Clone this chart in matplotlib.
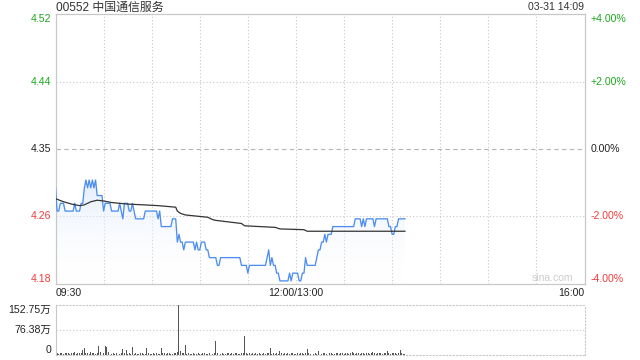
import numpy as np
import matplotlib
matplotlib.use("Agg")
import matplotlib.pyplot as plt
from matplotlib import transforms
from matplotlib.colors import LinearSegmentedColormap

# ---------------- data ----------------
prev_close = 4.35
title = "00552 中国通信服务"
stamp = "03-31 14:09"
price_labels = ["4.52", "4.44", "4.35", "4.26", "4.18"]
pct_labels = ["+4.00%", "+2.00%", "0.00%", "-2.00%", "-4.00%"]
pct_levels = [0.04, 0.02, 0.0, -0.02, -0.04]
time_labels = ["09:30", "12:00/13:00", "16:00"]
time_label_minutes = [0, 150, 330]
vol_labels = ["152.75万", "76.38万", "0"]
vol_label_values = [152.75, 76.38, 0]
session_minutes = 330

# price per minute from 09:30 (one value per minute)
price = [
    4.30, 4.27, 4.27, 4.28, 4.28, 4.28, 4.27, 4.27, 4.27, 4.27,
    4.27, 4.27, 4.28, 4.27, 4.27, 4.27, 4.28, 4.28, 4.30, 4.31,
    4.30, 4.31, 4.30, 4.31, 4.30, 4.31, 4.29, 4.29, 4.29, 4.29,
    4.27, 4.28, 4.28, 4.28, 4.28, 4.27, 4.27, 4.27, 4.27, 4.27,
    4.28, 4.27, 4.26, 4.28, 4.28, 4.28, 4.27, 4.27, 4.28, 4.27,
    4.26, 4.26, 4.26, 4.26, 4.26, 4.26, 4.27, 4.27, 4.27, 4.27,
    4.27, 4.27, 4.27, 4.27, 4.26, 4.27, 4.25, 4.25, 4.25, 4.25,
    4.25, 4.25, 4.25, 4.26, 4.26, 4.26, 4.23, 4.24, 4.23, 4.23,
    4.22, 4.23, 4.23, 4.23, 4.23, 4.23, 4.23, 4.22, 4.23, 4.22,
    4.22, 4.23, 4.23, 4.23, 4.22, 4.22, 4.21, 4.21, 4.21, 4.21,
    4.21, 4.20, 4.20, 4.21, 4.21, 4.21, 4.21, 4.21, 4.21, 4.21,
    4.21, 4.21, 4.21, 4.21, 4.21, 4.21, 4.20, 4.20, 4.20, 4.20,
    4.19, 4.20, 4.20, 4.20, 4.20, 4.20, 4.20, 4.20, 4.20, 4.20,
    4.20, 4.20, 4.21, 4.22, 4.20, 4.21, 4.20, 4.20, 4.19, 4.19,
    4.18, 4.18, 4.18, 4.18, 4.18, 4.18, 4.19, 4.18, 4.19, 4.19,
    4.19, 4.19, 4.18, 4.18, 4.19, 4.19, 4.21, 4.20, 4.20, 4.20,
    4.20, 4.20, 4.20, 4.21, 4.22, 4.22, 4.23, 4.23, 4.24, 4.23,
    4.24, 4.24, 4.24, 4.25, 4.25, 4.25, 4.25, 4.25, 4.25, 4.25,
    4.25, 4.25, 4.25, 4.25, 4.25, 4.25, 4.25, 4.26, 4.26, 4.26,
    4.26, 4.25, 4.26, 4.25, 4.26, 4.26, 4.26, 4.26, 4.26, 4.25,
    4.26, 4.26, 4.26, 4.26, 4.26, 4.26, 4.26, 4.26, 4.25, 4.25,
    4.24, 4.24, 4.25, 4.25, 4.26, 4.26, 4.26, 4.26, 4.26,
]

# average price line (minute, value)
avg_minutes = [0, 5, 10, 15, 18, 22, 26, 30, 35, 45, 55, 64, 75, 76, 78, 81,
               95, 98, 100, 116, 118, 137, 140, 155, 157, 218]
avg_values = [4.286, 4.282, 4.279, 4.277, 4.278, 4.282, 4.284, 4.283, 4.281,
              4.279, 4.278, 4.277, 4.275, 4.270, 4.267, 4.265, 4.262, 4.259,
              4.258, 4.254, 4.251, 4.249, 4.247, 4.246, 4.244, 4.244]

# volume per minute, in 万 shares
volume = [
    40, 6, 4, 5, 6, 4, 5, 7, 5, 4,
    6, 5, 8, 4, 5, 6, 5, 15, 20, 6,
    5, 4, 10, 6, 5, 4, 7, 29, 8, 18,
    6, 27, 23, 8, 4, 3, 5, 4, 6, 3,
    4, 5, 18, 6, 15, 4, 5, 3, 24, 4,
    5, 3, 4, 6, 5, 4, 3, 20, 5, 4,
    3, 6, 4, 5, 4, 3, 22, 6, 5, 4,
    7, 5, 4, 3, 6, 5, 8, 152.75, 12, 6,
    5, 30, 4, 5, 3, 4, 5, 3, 4, 5,
    3, 4, 6, 5, 4, 3, 5, 6, 4, 5,
    43, 6, 5, 4, 5, 3, 4, 6, 5, 4,
    5, 4, 6, 5, 3, 4, 5, 6, 58, 5,
    4, 6, 3, 5, 4, 5, 4, 6, 3, 4,
    5, 4, 6, 5, 20, 4, 5, 3, 6, 4,
    13, 5, 4, 6, 3, 5, 4, 5, 6, 4,
    3, 5, 4, 6, 5, 4, 7, 18, 5, 4,
    6, 4, 5, 3, 12, 5, 4, 6, 5, 3,
    4, 6, 5, 4, 3, 5, 6, 4, 5, 7,
    4, 5, 6, 4, 5, 10, 6, 4, 5, 6,
    4, 7, 5, 4, 6, 5, 4, 6, 8, 5,
    4, 6, 5, 7, 4, 6, 5, 12, 6, 4,
    5, 7, 6, 4, 5, 14, 6, 4, 3,
]

# ---------------- style ----------------
plt.rcParams["font.family"] = ["Liberation Sans", "Noto Sans CJK SC", "DejaVu Sans"]
GREEN = "#1ea81e"
RED = "#f03c3c"
BLACK = "#222222"
GRID = "#c8c8c8"
LINE = "#4d8ef0"
FS = 7.6

W, H = 640, 360
fig = plt.figure(figsize=(W / 100, H / 100), dpi=100)
fig.patch.set_facecolor("white")

L, R = 55.5, 584.5
ax = fig.add_axes([L / W, 1 - 284 / H, (R - L) / W, 270 / H])
axv = fig.add_axes([L / W, 1 - 355 / H, (R - L) / W, 50 / H])

minutes = np.arange(len(price))
price = np.array(price)
ymin, ymax = prev_close * 0.96, prev_close * 1.04

# ---------------- main panel ----------------
poly = ax.fill_between(minutes, price, ymin, color="none", lw=0)
cmap = LinearSegmentedColormap.from_list(
    "g", [(1, 1, 1, 0.0), (0.86, 0.91, 0.99, 0.75)])
grad = np.linspace(0, 1, 256).reshape(-1, 1)
im = ax.imshow(grad, extent=[0, minutes[-1], ymin, price.max()], origin="lower",
               aspect="auto", cmap=cmap, zorder=1, interpolation="bilinear")
im.set_clip_path(poly.get_paths()[0], transform=ax.transData)

ax.plot(minutes, price, color=LINE, lw=0.95, zorder=3)
ax.plot(avg_minutes, avg_values, color="#333333", lw=0.9, zorder=4)

ax.set_xlim(0, session_minutes)
ax.set_ylim(ymin, ymax)
ax.set_xticks([])
ax.set_yticks([])
for s in ax.spines.values():
    s.set_color(GRID)
    s.set_linewidth(0.9)

dot = (0, (1, 2))
for m in range(30, session_minutes, 30):
    ax.axvline(m, color=GRID, lw=0.8, ls=dot, zorder=0)
for p in (0.02, -0.02):
    ax.axhline(prev_close * (1 + p), color=GRID, lw=0.8, ls=dot, zorder=0)
ax.axhline(prev_close, color="#b4b4b4", lw=0.8, ls=(0, (4, 3)), zorder=0)

tl = transforms.blended_transform_factory(ax.transAxes, ax.transData)
for lab, plab, p in zip(price_labels, pct_labels, pct_levels):
    col = GREEN if p > 0 else (RED if p < 0 else BLACK)
    y = prev_close * (1 + p)
    va = "top" if p == 0.04 else ("bottom" if p == -0.04 else "center")
    ax.text(-4.5 / (R - L), y, lab, transform=tl, ha="right", va=va,
            fontsize=FS, color=col)
    ax.text(1 + 6.2 / (R - L), y, plab, transform=tl, ha="left", va=va,
            fontsize=FS, color=col)

tx = transforms.blended_transform_factory(ax.transData, ax.transAxes)
for lab, m, ha in zip(time_labels, time_label_minutes, ["left", "center", "right"]):
    ax.text(m, -9.5 / 270, lab, transform=tx, ha=ha, va="center",
            fontsize=FS, color=BLACK)

ax.text(1 - 11.5 / (R - L), 6 / 270, "sina.com", transform=ax.transAxes,
        ha="right", va="center", fontsize=7.5, color="#cccccc")

fig.text(L / W, 1 - 7.5 / H, title, ha="left", va="center", fontsize=8.6,
         color="#333333")
fig.text(R / W, 1 - 7.5 / H, stamp, ha="right", va="center", fontsize=FS,
         color="#333333")

# ---------------- volume panel ----------------
axv.bar(minutes, volume, width=0.6, color="#555555", lw=0, zorder=2)
axv.set_xlim(0, session_minutes)
axv.set_ylim(0, max(volume))
axv.set_xticks([])
axv.set_yticks([])
for k, s in axv.spines.items():
    s.set_color(GRID)
    s.set_linewidth(0.8)
    if k != "left":
        s.set_linestyle(dot)
axv.axhline(vol_label_values[1], color=GRID, lw=0.8, ls=dot, zorder=0)

tv = transforms.blended_transform_factory(axv.transAxes, axv.transData)
for lab, v, va in zip(vol_labels, vol_label_values, ["top", "center", "bottom"]):
    axv.text(-4.5 / (R - L), v, lab, transform=tv, ha="right", va=va,
             fontsize=FS, color=BLACK)

fig.savefig("out.png", dpi=100, facecolor="white")
